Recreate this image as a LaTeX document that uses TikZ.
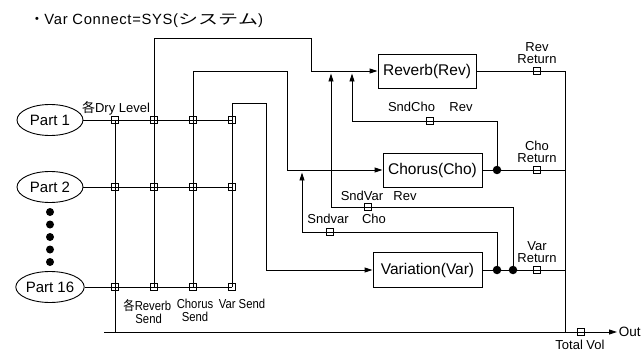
\documentclass[tikz,border=0pt]{standalone}
\usepackage{fontspec}
\setmainfont{Liberation Sans}
\newfontfamily\jp{Noto Sans CJK JP}
\newfontfamily\narrowf[FakeStretch=0.87]{Liberation Sans}
\newfontfamily\jpnarrow[FakeStretch=0.87]{Noto Sans CJK JP}
\newfontfamily\titlef[LetterSpace=4.5]{Liberation Sans}
\newcommand{\kk}[1]{\makebox[20pt]{\scalebox{1.35}[0.95]{\jp #1}}}
\usetikzlibrary{arrows.meta,shapes.geometric}
\begin{document}
\begin{tikzpicture}[x=1pt,y=-1pt,line width=0.9pt,
  part/.style={draw,ellipse,minimum width=66pt,minimum height=31pt,inner sep=0pt,font=\fontsize{15}{15}\selectfont},
  fx/.style={draw,rectangle,inner sep=0pt,font=\fontsize{15.5}{16}\selectfont},
  sq/.style={draw,rectangle,minimum size=7pt,inner sep=0pt},
  dot/.style={circle,fill,minimum size=8.5pt,inner sep=0pt},
  pdot/.style={circle,fill,minimum size=8pt,inner sep=0pt},
  lbl/.style={font=\fontsize{13}{12}\selectfont,inner sep=0pt,align=center},
  nlbl/.style={font=\fontsize{13}{13}\narrowf,inner sep=0pt,align=center},
  arr/.style={-{Triangle[length=8pt,width=5pt]}}]
\useasboundingbox (0,0) rectangle (641,353);

% title
\node[anchor=base west,inner sep=0pt,font=\fontsize{14.8}{15}\titlef] (title) at (29,25)
  {\makebox[15pt]{\jp ・}Var Connect=SYS(\kk{シ}\kk{ス}\kk{テ}\kk{ム})};

% parts
\node[part] (p1) at (50,120) {Part 1};
\node[part] (p2) at (50,187) {Part 2};
\node[part] (p16) at (50,287) {Part 16};
\foreach \i/\y in {1/212,2/224.5,3/237,4/249.5,5/262}
  \node[pdot] (pd\i) at (50,\y) {};

% matrix squares
\foreach \r/\y in {1/120,2/187,16/287}
  \foreach \c/\x in {a/115,b/154,c/193,d/232}
    \node[sq] (s\r\c) at (\x,\y) {};

% effect boxes
\node[fx,minimum width=98pt,minimum height=34pt] (rev) at (427,71) {Reverb(Rev)};
\node[fx,minimum width=99pt,minimum height=34pt] (cho) at (432.5,170) {Chorus(Cho)};
\node[fx,minimum width=109pt,minimum height=35pt] (var) at (427.5,270) {Variation(Var)};

% return squares and dots
\node[sq] (rr) at (537,71) {};
\node[sq] (cr) at (537,170) {};
\node[sq] (vr) at (537,270) {};
\node[sq] (tv) at (581,332) {};
\node[dot] (dc) at (497,170) {};
\node[dot] (dv1) at (497,270) {};
\node[dot] (dv2) at (513,270) {};

% send squares
\node[sq] (scr) at (430,121) {};
\node[sq] (svr) at (368,207) {};
\node[sq] (svc) at (330,232) {};

% coordinates
\coordinate (ja) at (115,332);
\coordinate (bl) at (104,332);
\coordinate (jr) at (565,332);
\coordinate (a1) at (352,73.5);
\coordinate (a2) at (331,73.5);
\coordinate (a3) at (302,172.5);

% rows
\draw (p1) -- (s1d.center);
\draw (p2) -- (s2d.center);
\draw (p16) -- (s16d.center);

% columns
\draw (s1a.center) -- (ja);
\draw[arr] (s16b.center) -- (154,38) -- (311,38) -- (311,71) -- (rev.west);
\draw[arr] (s16c.center) -- (193,71) -- (287,71) -- (287,170) -- (cho.west);
\draw[arr] (s16d.center) -- (232,103) -- (266,103) -- (266,270) -- (var.west);

% outputs
\draw (rev.east) -- (565,71) -- (jr);
\draw (cho.east) -- (565,170);
\draw (var.east) -- (565,270);

% inter-effect sends
\draw[arr] (dc.center) -- (497,121) -- (352,121) -- (a1);
\draw[arr] (dv2.center) -- (513,207) -- (331,207) -- (a2);
\draw[arr] (dv1.center) -- (497,232) -- (302,232) -- (a3);

% output bus
\node[anchor=west,inner sep=1.5pt,font=\fontsize{13.5}{14}\selectfont] (out) at (617,332) {Out};
\draw[arr] (bl) -- (out.west);

% labels
\node[lbl] (lDry) at (116,108) {{\jp 各}Dry Level};
\node[lbl,anchor=south] (lRR) at (537,64) {Rev\\Return};
\node[lbl,anchor=south] (lCR) at (537,163) {Cho\\Return};
\node[lbl,anchor=south] (lVR) at (537,263) {Var\\Return};
\node[lbl] (lSC) at (411.5,107) {SndCho};
\node[lbl] (lSCr) at (461,107) {Rev};
\node[lbl] (lSV) at (362,196) {SndVar};
\node[lbl] (lSVr) at (405,196) {Rev};
\node[lbl] (lSVc) at (374,219) {Cho};
\node[lbl] (lSv) at (328,219) {Sndvar};
\node[nlbl,align=left,anchor=north west] (lRS) at (123,299) {{\jpnarrow 各}Reverb\\\hspace{12pt}Send};
\node[nlbl,anchor=north] (lCS) at (195,299) {Chorus\\Send};
\node[nlbl,anchor=north] (lVS) at (242,299) {Var Send};
\node[lbl] (lTV) at (580,345) {Total Vol};
\end{tikzpicture}
\end{document}
